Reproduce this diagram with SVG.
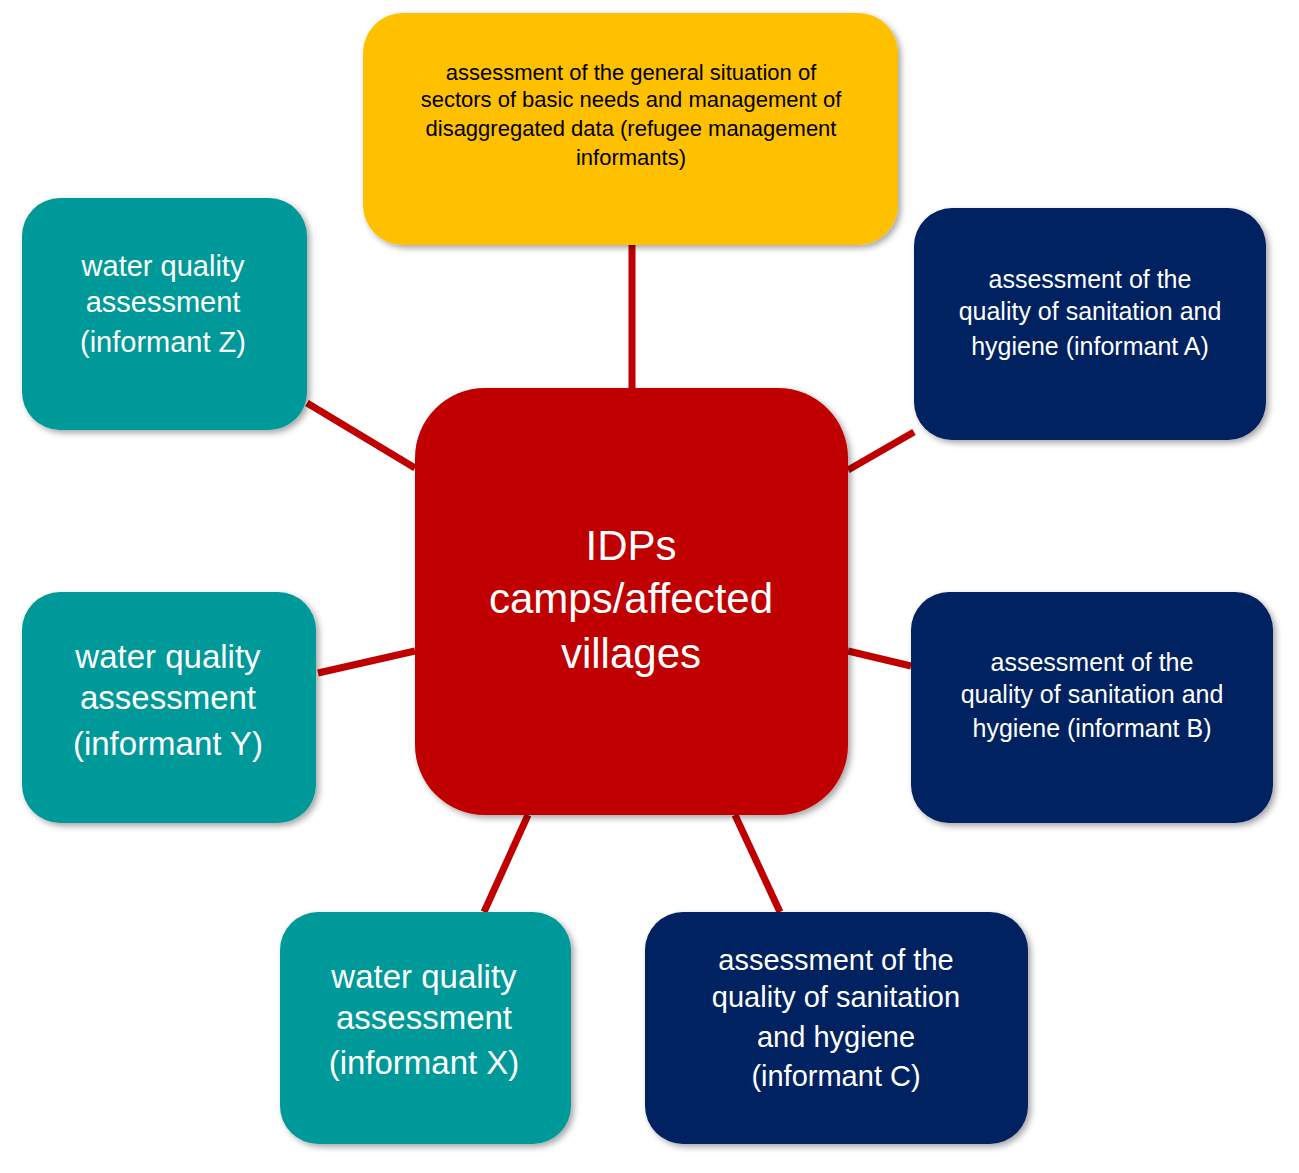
<svg xmlns="http://www.w3.org/2000/svg" width="1299" height="1173" viewBox="0 0 1299 1173">
<style>
.t{font-family:"Liberation Sans",Arial,sans-serif;fill:#fff;text-anchor:middle}
.y{font-family:"Liberation Sans",Arial,sans-serif;fill:#000;text-anchor:middle}
.c line{stroke:#C00000;stroke-width:7}
.teal{fill:#009999}.navy{fill:#002060}
</style>
<defs><filter id="s" x="-10%" y="-10%" width="125%" height="125%"><feDropShadow dx="3" dy="3" stdDeviation="3" flood-opacity="0.35"/></filter></defs>
<rect width="1299" height="1173" fill="#fff"/>
<g class="c">
<line x1="632" y1="245" x2="632" y2="388"/>
<line x1="307" y1="403" x2="415" y2="468"/>
<line x1="914" y1="432" x2="848" y2="470"/>
<line x1="318" y1="673" x2="415" y2="651"/>
<line x1="848" y1="651" x2="911" y2="666"/>
<line x1="528" y1="815" x2="484" y2="912"/>
<line x1="735" y1="815" x2="780" y2="912"/>
</g>
<g id="top"><rect x="363" y="13" width="535" height="232" rx="40" fill="#FFC000" filter="url(#s)"/>
<text class="y" font-size="22"><tspan x="631" y="80">assessment of the general situation of</tspan><tspan x="631" y="107">sectors of basic needs and management of</tspan><tspan x="631" y="136">disaggregated data (refugee management</tspan><tspan x="631" y="165">informants)</tspan></text></g>
<g id="center"><rect x="415" y="388" width="433" height="427" rx="70" fill="#C00000" filter="url(#s)"/>
<text class="t" font-size="42"><tspan x="631" y="560">IDPs</tspan><tspan x="631" y="613">camps/affected</tspan><tspan x="631" y="668">villages</tspan></text></g>
<g id="z"><rect x="22" y="198" width="285" height="232" rx="38" class="teal" filter="url(#s)"/>
<text class="t" font-size="29"><tspan x="163" y="276">water quality</tspan><tspan x="163" y="312">assessment</tspan><tspan x="163" y="352">(informant Z)</tspan></text></g>
<g id="a"><rect x="914" y="208" width="352" height="232" rx="38" class="navy" filter="url(#s)"/>
<text class="t" font-size="25"><tspan x="1090" y="288">assessment of the</tspan><tspan x="1090" y="320">quality of sanitation and</tspan><tspan x="1090" y="355">hygiene (informant A)</tspan></text></g>
<g id="yy"><rect x="22" y="592" width="294" height="231" rx="38" class="teal" filter="url(#s)"/>
<text class="t" font-size="33"><tspan x="168" y="668">water quality</tspan><tspan x="168" y="709">assessment</tspan><tspan x="168" y="755">(informant Y)</tspan></text></g>
<g id="b"><rect x="911" y="592" width="362" height="231" rx="38" class="navy" filter="url(#s)"/>
<text class="t" font-size="25"><tspan x="1092" y="671">assessment of the</tspan><tspan x="1092" y="703">quality of sanitation and</tspan><tspan x="1092" y="737">hygiene (informant B)</tspan></text></g>
<g id="x"><rect x="280" y="912" width="291" height="232" rx="38" class="teal" filter="url(#s)"/>
<text class="t" font-size="33"><tspan x="424" y="988">water quality</tspan><tspan x="424" y="1029">assessment</tspan><tspan x="424" y="1074">(informant X)</tspan></text></g>
<g id="cc"><rect x="645" y="912" width="383" height="232" rx="38" class="navy" filter="url(#s)"/>
<text class="t" font-size="29"><tspan x="836" y="970">assessment of the</tspan><tspan x="836" y="1007">quality of sanitation</tspan><tspan x="836" y="1047">and hygiene</tspan><tspan x="836" y="1086">(informant C)</tspan></text></g>
</svg>
